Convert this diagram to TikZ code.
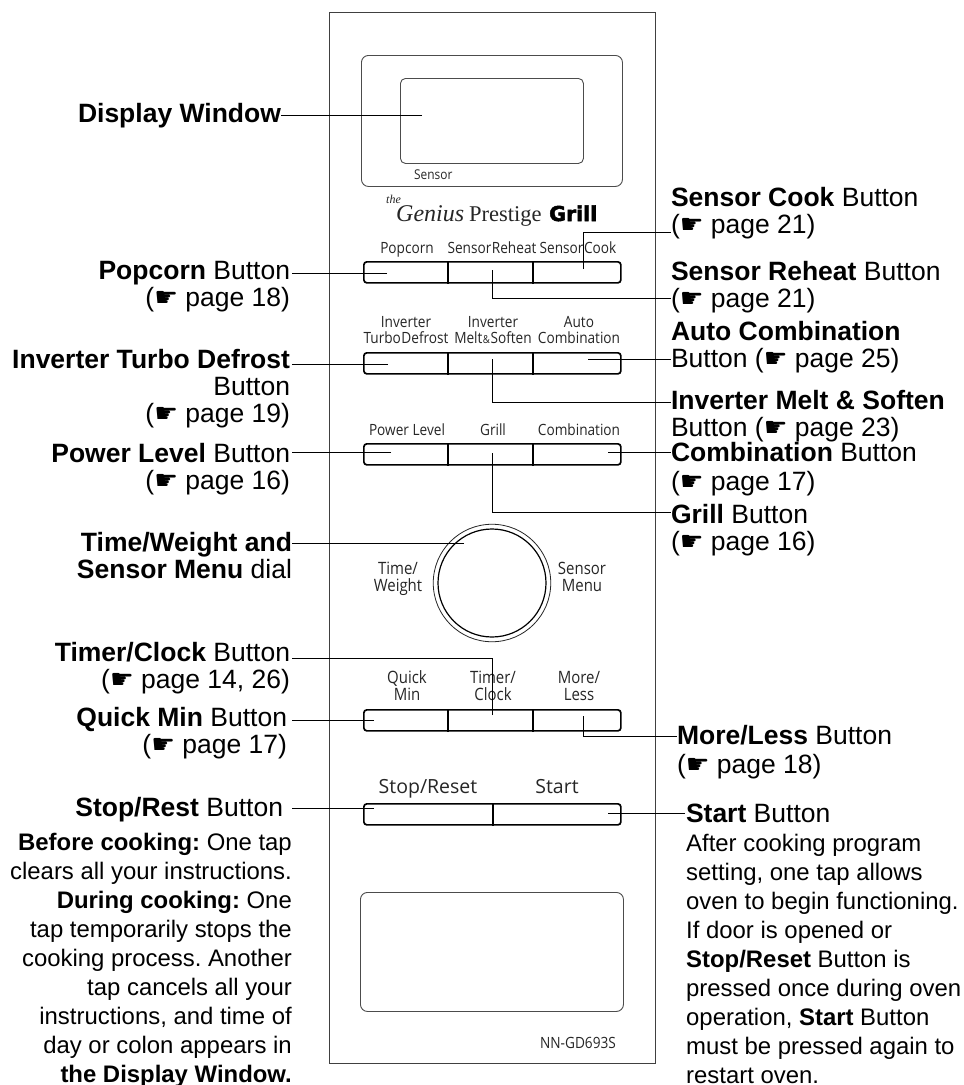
\documentclass[tikz,border=0pt]{standalone}
\usepackage{fontspec}
\setmainfont{Liberation Sans}
\newfontfamily\dvu{DejaVu Sans}
\newfontfamily\pnl[FakeStretch=0.88]{Open Sans}
\newfontfamily\pnlw{Open Sans}
\newfontfamily\serifx{Liberation Serif}
\newfontfamily\grillf[BoldFeatures={FakeBold=2.5}]{DejaVu Sans}
\newcommand{\hnd}{{\dvu\symbol{"261B}}}
\newcommand{\lb}[1]{\textbf{#1}}
\frenchspacing
\tikzset{
  lab/.style={inner sep=0pt,outer sep=0pt,font=\fontsize{26.5}{27}\selectfont},
  labL/.style={lab,anchor=base east,align=right},
  labR/.style={lab,anchor=base west,align=left},
  bodyL/.style={inner sep=0pt,anchor=base east,align=right,font=\fontsize{23.9}{28.9}\selectfont},
  bodyR/.style={inner sep=0pt,anchor=base west,align=left,font=\fontsize{23.9}{28.9}\selectfont},
  ptext/.style={inner sep=0pt,anchor=base,align=center,text=black!85,font=\pnl\fontsize{15.5}{17}\selectfont},
  ptextm/.style={ptext,font=\pnl\fontsize{17}{17}\selectfont},
  ptextb/.style={inner sep=0pt,anchor=base,align=center,text=black!85,font=\pnlw\fontsize{19.5}{20}\selectfont},
  panel/.style={draw=black!75,line width=1.1pt},
  win/.style={draw=black!70,line width=0.9pt,rounded corners=7pt},
  btn/.style={draw=black,line width=1.7pt,rounded corners=3pt},
  divd/.style={draw=black,line width=2.6pt},
  conn/.style={draw=black,line width=1pt},
}
\begin{document}
\begin{tikzpicture}[x=1pt,y=-1pt]
\useasboundingbox (0,0) rectangle (964,1085);
\fill[white] (0,0) rectangle (964,1085);
% panel
\node[panel,minimum width=326pt,minimum height=1051pt,inner sep=0pt,anchor=north west] (front) at (329,12) {};
\node[win,minimum width=261pt,minimum height=131pt,inner sep=0pt,anchor=north west] (dispO) at (361,55) {};
\node[win,rounded corners=5pt,minimum width=183pt,minimum height=85pt,inner sep=0pt,anchor=north west] (dispI) at (400,78) {};
\node[ptext,anchor=base west,font=\pnl\fontsize{13.5}{15}\selectfont] (tSensor) at (414,179) {Sensor};
\node[win,minimum width=263pt,minimum height=119pt,inner sep=0pt,anchor=north west] (lowerW) at (360,892) {};
\node[ptext,font=\pnl\fontsize{15.5}{15}\selectfont] (tModel) at (578,1048) {NN-GD693S};
% logo
\node[inner sep=0pt,anchor=base west,text=black!85,font=\serifx\itshape\fontsize{12}{12}\selectfont] (logoA) at (386,203) {the};
\node[inner sep=0pt,anchor=base west,text=black!85,font=\serifx\itshape\fontsize{24}{26}\selectfont] (logoB) at (396,221) {Genius};
\node[inner sep=0pt,anchor=base west,text=black!85,font=\serifx\fontsize{22.5}{23}\selectfont] (logoC) at (469,221) {Prestige};
\node[inner sep=0pt,anchor=base west,font=\grillf\bfseries\fontsize{20.5}{21}\selectfont] (logoD) at (549,221) {Grill};
% button rows
\node[btn,minimum width=257pt,minimum height=21pt,inner sep=0pt,anchor=north west] (row1) at (363,261) {};
\node[btn,minimum width=257pt,minimum height=21pt,inner sep=0pt,anchor=north west] (row2) at (363,352) {};
\node[btn,minimum width=257pt,minimum height=21pt,inner sep=0pt,anchor=north west] (row3) at (363,443) {};
\node[btn,minimum width=257pt,minimum height=21pt,inner sep=0pt,anchor=north west] (row4) at (363,709) {};
\node[btn,minimum width=257pt,minimum height=21pt,inner sep=0pt,anchor=north west] (row5) at (363,803) {};
\foreach \r in {row1,row2,row3,row4}{
  \draw[divd] (448,0 |- \r.north) -- (448,0 |- \r.south);
  \draw[divd] (533,0 |- \r.north) -- (533,0 |- \r.south);
}
\draw[divd] (493,0 |- row5.north) -- (493,0 |- row5.south);
% panel labels (base anchor = last line)
\node[ptext] (t11) at (407,253) {Popcorn};
\node[ptext] (t12) at (492,253) {Sensor\kern0.5pt Reheat};
\node[ptext] (t13) at (578,253) {Sensor\kern0.5pt Cook};
\node[ptext] (t21) at (406,343) {Inverter\\[-1pt]Turbo\kern0.5pt Defrost};
\node[ptext] (t22) at (493,343) {Inverter\\[-1pt]Melt\kern0.5pt{\fontsize{11}{12}\selectfont\&}\kern0.5pt Soften};
\node[ptext] (t23) at (579,343) {Auto\\[-1pt]Combination};
\node[ptext] (t31) at (407,435) {Power Level};
\node[ptext] (t32) at (493,435) {Grill};
\node[ptext] (t33) at (579,435) {Combination};
\node[ptextm] (t41) at (407,700) {Quick\\Min};
\node[ptextm] (t42) at (493,700) {Timer/\\Clock};
\node[ptextm] (t43) at (579,700) {More/\\Less};
\node[ptextb] (t51) at (428,793) {Stop/Reset};
\node[ptextb] (t52) at (557,793) {Start};
\node[ptextm] (t61) at (398,591) {Time/\\Weight};
\node[ptextm] (t62) at (582,591) {Sensor\\Menu};
% dial
\node[circle,draw=black!85,line width=0.8pt,minimum size=117.5pt,inner sep=0pt] (dialO) at (492,583) {};
\node[circle,draw=black,line width=1.2pt,minimum size=108pt,inner sep=0pt] (dialI) at (492,583) {};
% left callouts
\node[labL] (lDisp) at (281,122) {\lb{Display Window}};
\node[labL] (lPop) at (290,306) {\lb{Popcorn} Button\\(\hnd\ page 18)};
\node[labL] (lTurbo) at (290,422) {\lb{Inverter Turbo Defrost}\\Button\\(\hnd\ page 19)};
\node[labL] (lPower) at (290,489) {\lb{Power Level} Button\\(\hnd\ page 16)};
\node[labL] (lTime) at (292,578) {\lb{Time/Weight and}\\\lb{Sensor Menu} dial};
\node[labL] (lTimer) at (290,688) {\lb{Timer/Clock} Button\\(\hnd\ page 14, 26)};
\node[labL] (lQuick) at (287,753) {\lb{Quick Min} Button\\(\hnd\ page 17)};
\node[labL] (lStop) at (283,816) {\lb{Stop/Rest} Button};
\node[bodyL] (lStopB) at (292,1082) {\lb{Before cooking:} One tap\\clears all your instructions.\\\lb{During cooking:} One\\tap temporarily stops the\\cooking process. Another\\tap cancels all your\\instructions, and time of\\day or colon appears in\\\lb{the Display Window.}};
% right callouts
\node[labR] (rCook) at (671,233) {\lb{Sensor Cook} Button\\(\hnd\ page 21)};
\node[labR] (rReheat) at (671,307) {\lb{Sensor Reheat} Button\\(\hnd\ page 21)};
\node[labR] (rAuto) at (671,367) {\lb{Auto Combination}\\Button (\hnd\ page 25)};
\node[labR] (rMelt) at (671,436) {\lb{Inverter Melt \& Soften}\\Button (\hnd\ page 23)};
\node[labR] (rComb) at (671,490) {\lb{Combination} Button\\[2pt](\hnd\ page 17)};
\node[labR] (rGrill) at (671,550) {\lb{Grill} Button\\(\hnd\ page 16)};
\node[labR] (rMore) at (677,773) {\lb{More/Less} Button\\[2pt](\hnd\ page 18)};
\node[labR] (rStart) at (686,822) {\lb{Start} Button};
\node[bodyR] (rStartB) at (686,1083) {After cooking program\\setting, one tap allows\\oven to begin functioning.\\If door is opened or\\\lb{Stop/Reset} Button is\\pressed once during oven\\operation, \lb{Start} Button\\must be pressed again to\\restart oven.};
% connector end points
\coordinate (eDisp) at (422,115);
\coordinate (ePop) at (387,273);
\coordinate (eTurbo) at (388,364);
\coordinate (ePower) at (391,452);
\coordinate (eTime) at (464,543);
\coordinate (eTimer) at (492,715);
\coordinate (bTimer) at (492,658);
\coordinate (eQuick) at (374,720);
\coordinate (eStop) at (374,808);
\coordinate (eCook) at (583,269);
\coordinate (bCook) at (583,232);
\coordinate (eReheat) at (492,270);
\coordinate (bReheat) at (492,298);
\coordinate (eAuto) at (588,359);
\coordinate (eMelt) at (492,359);
\coordinate (bMelt) at (492,402);
\coordinate (eComb) at (608,452);
\coordinate (eGrill) at (492,453);
\coordinate (bGrill) at (492,512);
\coordinate (eMore) at (583,716);
\coordinate (bMore) at (583,736);
\coordinate (eStart) at (608,813);
% connectors
\draw[conn] (eDisp) -- (lDisp.east |- eDisp);
\draw[conn] (ePop) -- ([xshift=2pt]lPop.east |- ePop);
\draw[conn] (eTurbo) -- ([xshift=2pt]lTurbo.east |- eTurbo);
\draw[conn] (ePower) -- ([xshift=2pt]lPower.east |- ePower);
\draw[conn] (eTime) -- (lTime.east |- eTime);
\draw[conn] (eTimer) -- (bTimer) -- ([xshift=2pt]lTimer.east |- bTimer);
\draw[conn] (eQuick) -- ([xshift=5pt]lQuick.east |- eQuick);
\draw[conn] (eStop) -- ([xshift=9pt]lStop.east |- eStop);
\draw[conn] (eCook) -- (bCook) -- (rCook.west |- bCook);
\draw[conn] (eReheat) -- (bReheat) -- (rReheat.west |- bReheat);
\draw[conn] (eAuto) -- (rAuto.west |- eAuto);
\draw[conn] (eMelt) -- (bMelt) -- (rMelt.west |- bMelt);
\draw[conn] (eComb) -- (rComb.west |- eComb);
\draw[conn] (eGrill) -- (bGrill) -- (rGrill.west |- bGrill);
\draw[conn] (eMore) -- (bMore) -- (rMore.west |- bMore);
\draw[conn] (eStart) -- ([xshift=-1pt]rStart.west |- eStart);
\end{tikzpicture}
\end{document}
